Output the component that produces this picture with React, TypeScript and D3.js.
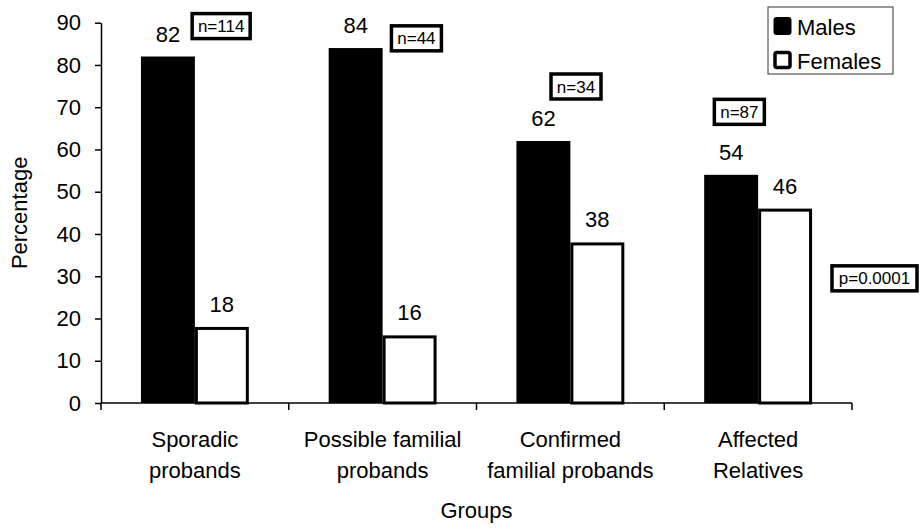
import React, { useEffect, useRef } from "react";
import * as d3 from "d3";

const categories = [
  ["Sporadic", "probands"],
  ["Possible familial", "probands"],
  ["Confirmed", "familial probands"],
  ["Affected", "Relatives"],
];
const seriesNames = ["Males", "Females"];
const males = [82, 84, 62, 54];
const females = [18, 16, 38, 46];
const yTicks = [0, 10, 20, 30, 40, 50, 60, 70, 80, 90];
// annotation boxes: text, group index, x offset fraction within band, y in data units
const nLabels = ["n=114", "n=44", "n=34", "n=87"];
const nAnchorX = [0.64, 0.68, 0.53, 0.4];
const nAnchorY = [89.2, 86.3, 74.9, 68.9];
const pLabel = "p=0.0001";

const W = 920;
const H = 529;
const FONT = "'Liberation Sans', Arial, Helvetica, sans-serif";

export default function App() {
  const ref = useRef<SVGSVGElement | null>(null);

  useEffect(() => {
    const svg = d3.select(ref.current);
    svg.selectAll("*").remove();

    const left = 101, right = 852, top = 22.7, bottom = 403;
    const keys = categories.map((c) => c.join(" "));
    const x0 = d3.scaleBand<string>().domain(keys).range([left, right]).paddingInner(0).paddingOuter(0);
    const x1 = d3.scaleBand<string>().domain(seriesNames).range([0, x0.bandwidth()]).paddingInner(0).paddingOuter(0.74);
    const y = d3.scaleLinear().domain([0, 90]).range([bottom, top]);

    const g = svg.append("g").attr("font-family", FONT);

    // Y axis
    const yAxis = d3.axisLeft(y).tickValues(yTicks).tickSize(6).tickSizeOuter(0).tickPadding(14);
    const ya = g.append("g").attr("transform", `translate(${left},0)`).call(yAxis);
    ya.selectAll("text").attr("font-size", 22).attr("font-family", FONT).attr("fill", "#000");
    ya.selectAll("line").attr("stroke", "#000").attr("stroke-width", 1.5);
    ya.select(".domain").attr("stroke", "#000").attr("stroke-width", 1.5);

    // X axis
    g.append("line").attr("x1", left).attr("x2", right).attr("y1", bottom).attr("y2", bottom)
      .attr("stroke", "#000").attr("stroke-width", 1.5);
    const bounds = keys.map((k) => x0(k) as number).concat([right]);
    g.selectAll(".xt").data(bounds).enter().append("line")
      .attr("x1", (d) => d).attr("x2", (d) => d).attr("y1", bottom).attr("y2", bottom + 7)
      .attr("stroke", "#000").attr("stroke-width", 1.5);

    // Category labels
    categories.forEach((c, i) => {
      const cx = (x0(keys[i]) as number) + x0.bandwidth() / 2;
      const t = g.append("text").attr("text-anchor", "middle").attr("font-size", 22).attr("fill", "#000");
      t.append("tspan").attr("x", cx).attr("y", 447).text(c[0]);
      t.append("tspan").attr("x", cx).attr("y", 478).text(c[1]);
    });

    g.append("text").attr("x", (left + right) / 2).attr("y", 518).attr("text-anchor", "middle")
      .attr("font-size", 22).text("Groups");
    g.append("text").attr("transform", `translate(27,${(top + bottom) / 2}) rotate(-90)`)
      .attr("text-anchor", "middle").attr("font-size", 22).text("Percentage");

    // Bars
    const bw = x1.bandwidth();
    keys.forEach((k, i) => {
      const bx = x0(k) as number;
      const mx = bx + (x1("Males") as number);
      const fx = bx + (x1("Females") as number);
      g.append("rect").attr("x", mx).attr("y", y(males[i])).attr("width", bw).attr("height", bottom - y(males[i]))
        .attr("fill", "#000");
      g.append("rect").attr("x", fx + 1.5).attr("y", y(females[i]) + 1.5).attr("width", bw - 3)
        .attr("height", bottom - y(females[i]) - 1.5)
        .attr("fill", "#fff").attr("stroke", "#000").attr("stroke-width", 3);
      g.append("text").attr("x", mx + bw / 2).attr("y", y(males[i]) - 15).attr("text-anchor", "middle")
        .attr("font-size", 22).text(String(males[i]));
      g.append("text").attr("x", fx + bw / 2).attr("y", y(females[i]) - 15).attr("text-anchor", "middle")
        .attr("font-size", 22).text(String(females[i]));
    });

    // annotation boxes
    const box = (cx: number, cy: number, label: string, w: number) => {
      g.append("rect").attr("x", cx - w / 2).attr("y", cy - 12.5).attr("width", w).attr("height", 25)
        .attr("fill", "#fff").attr("stroke", "#000").attr("stroke-width", 3.5);
      g.append("text").attr("x", cx).attr("y", cy + 6).attr("text-anchor", "middle")
        .attr("font-size", 17).text(label);
    };
    nLabels.forEach((lab, i) => {
      const cx = (x0(keys[i]) as number) + x0.bandwidth() * nAnchorX[i];
      const w = lab.length > 4 ? 58 : 50;
      box(cx, y(nAnchorY[i]), lab, w);
    });
    box(874.5, y(29.5), pLabel, 85);

    // Legend
    const lg = g.append("g");
    lg.append("rect").attr("x", 768).attr("y", 7).attr("width", 125).attr("height", 67)
      .attr("fill", "#fff").attr("stroke", "#333").attr("stroke-width", 1);
    seriesNames.forEach((s, i) => {
      const yy = 17 + i * 34;
      if (i === 0) {
        lg.append("rect").attr("x", 773.5).attr("y", yy).attr("width", 18).attr("height", 18).attr("rx", 3)
          .attr("fill", "#000");
      } else {
        lg.append("rect").attr("x", 775).attr("y", yy + 1.5).attr("width", 15).attr("height", 15).attr("rx", 2)
          .attr("fill", "#fff").attr("stroke", "#000").attr("stroke-width", 3.5);
      }
      lg.append("text").attr("x", 797).attr("y", yy + 18).attr("font-size", 22).text(s);
    });
  }, []);

  return (
    <svg ref={ref} width={W} height={H} style={{ position: "absolute", left: 0, top: 0, background: "#fff" }} />
  );
}
